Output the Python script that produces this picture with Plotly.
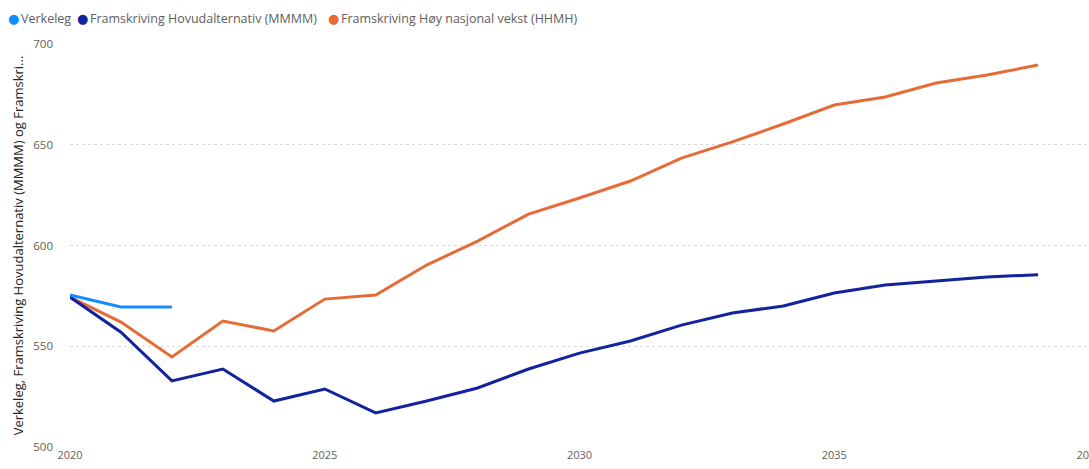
import plotly.graph_objects as go

years_actual = [2020, 2021, 2022]
verkeleg = [575.4, 569.5, 569.5]

years_proj = list(range(2020, 2040))
mmmm = [574.4, 557.0, 532.8, 538.7, 522.8, 528.8, 516.9, 522.8, 529.3, 538.7,
        546.6, 552.6, 560.5, 566.5, 570.0, 576.4, 580.4, 582.4, 584.4, 585.5]
hhmh = [574.4, 562.0, 544.7, 562.5, 557.6, 573.4, 575.4, 590.3, 602.2, 615.6,
        623.6, 632.0, 643.4, 651.4, 660.3, 669.7, 673.7, 680.6, 684.6, 689.6]

names = ["Verkeleg", "Framskriving Hovudalternativ (MMMM)", "Framskriving Høy nasjonal vekst (HHMH)"]
colors = ["#118DFF", "#12239E", "#E66C37"]
x_ticks = [2020, 2025, 2030, 2035, 2040]
y_ticks = [500, 550, 600, 650, 700]
y_title = "Verkeleg, Framskriving Hovudalternativ (MMMM) og Framskri..."

W, H = 1089, 469
ML, MR, MT, MB = 70, 0, 44, 22
PW = W - ML - MR
PH = H - MT - MB

fig = go.Figure()
series = [(years_actual, verkeleg), (years_proj, mmmm), (years_proj, hhmh)]
for i in [2, 1, 0]:
    xs, ys = series[i]
    fig.add_trace(go.Scatter(x=xs, y=ys, mode="lines", name=names[i],
                             line=dict(color=colors[i], width=3),
                             showlegend=False, cliponaxis=False))

# Compact legend (circle + label), laid out like the reference
legend_circle_px = [13, 82, 333]
legend_text_px = [21, 90, 341]
legend_y_px = 18
ly = 1 + (MT - legend_y_px) / PH
for i in range(3):
    fig.add_annotation(xref="paper", yref="paper",
                       x=(legend_circle_px[i] - ML) / PW, y=ly,
                       text="●", showarrow=False, xanchor="center", yanchor="middle",
                       font=dict(size=13, color=colors[i], family="DejaVu Sans"))
    fig.add_annotation(xref="paper", yref="paper",
                       x=(legend_text_px[i] - ML) / PW, y=ly,
                       text=names[i], showarrow=False, xanchor="left", yanchor="middle",
                       xshift=-2,
                       font=dict(size=12.5, color="#605E5C"))

fig.update_layout(
    width=W, height=H,
    margin=dict(l=ML, r=MR, t=MT, b=MB, autoexpand=False),
    paper_bgcolor="white", plot_bgcolor="white",
    showlegend=False,
    font=dict(family="Open Sans, Segoe UI, sans-serif", color="#605E5C", size=11),
    xaxis=dict(range=[2020, 2040], tickvals=x_ticks, showgrid=False,
               zeroline=False, showline=False, ticks="", automargin=False,
               ticklabeloverflow="allow",
               tickfont=dict(size=11, color="#605E5C")),
    yaxis=dict(range=[500, 700], tickvals=y_ticks, showgrid=True,
               gridcolor="#D9D9D9", griddash="dot", gridwidth=1,
               zeroline=False, showline=False, ticks="", automargin=False,
               ticklabelstandoff=16,
               tickfont=dict(size=11.5, color="#605E5C"),
               title=dict(text=y_title, font=dict(size=13, color="#252423"),
                          standoff=6)),
)

fig.write_html("out.html", config={"displayModeBar": False},
               post_script="document.body.style.margin='0';document.body.style.overflow='hidden';")
